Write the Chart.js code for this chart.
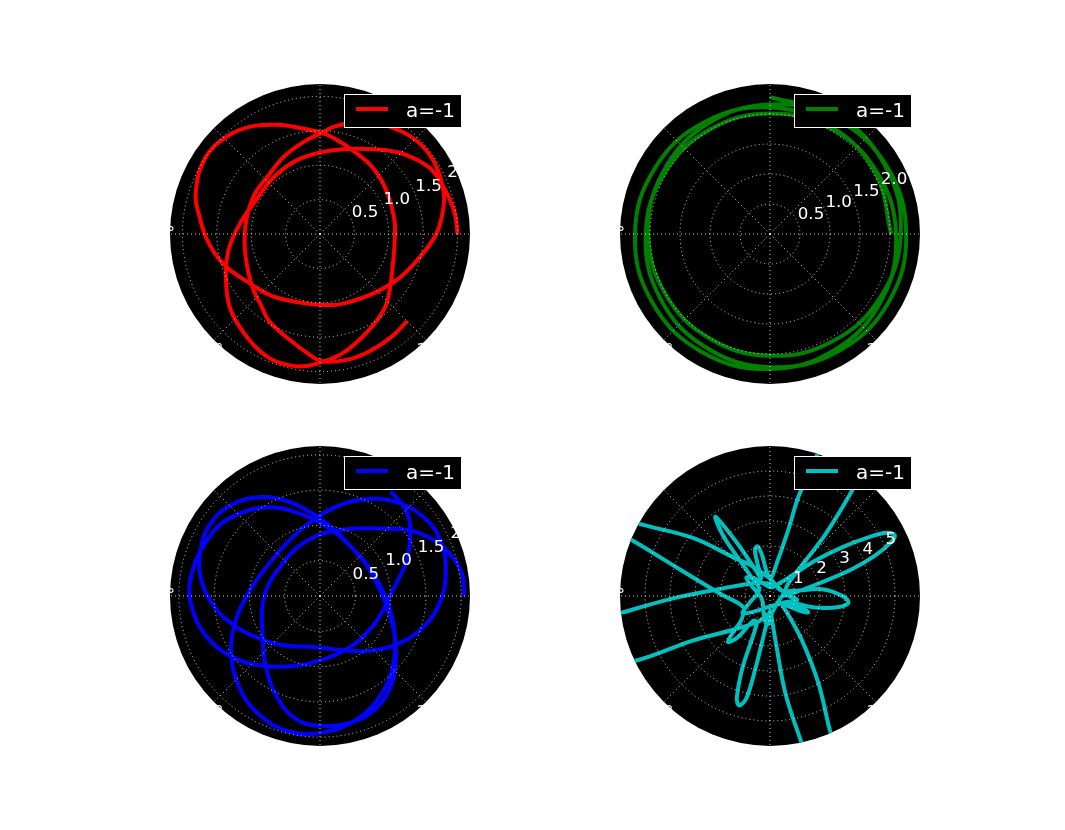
<!DOCTYPE html>
<html>
<head>
<meta charset="utf-8">
<script src="https://cdn.jsdelivr.net/npm/chart.js@4.4.1/dist/chart.umd.min.js"></script>
<style>
  html, body { margin: 0; padding: 0; background: #ffffff; }
  body { width: 1065px; height: 830px; position: relative; overflow: hidden; }
  canvas { position: absolute; }
</style>
</head>
<body>
<canvas id="c1" width="360" height="360" style="left:140px;top:54px"></canvas>
<canvas id="c2" width="360" height="360" style="left:590px;top:54px"></canvas>
<canvas id="c3" width="360" height="360" style="left:140px;top:416px"></canvas>
<canvas id="c4" width="360" height="360" style="left:590px;top:416px"></canvas>
<script>
// ---------------- data (theta in degrees, cumulative; r in data units) ----------------
const legendLabel = "a=-1";
const thetaTickLabels = ["0°", "45°", "90°", "135°", "180°", "225°", "270°", "315°"];
const thetaTickAngles = [0, 45, 90, 135, 180, 225, 270, 315];

const redRTicks = [0.5, 1.0, 1.5, 2.0];
const redRLabels = ["0.5", "1.0", "1.5", "2.0"];
const redRMax = 2.18;
const redTheta = [0,9,19,29,37,47,62,80,96,112,132,152,171,191,210,222,237,248,257,264,271,281,293,306,316,337,
  360,370,390,411,431,442,449,460,471,483,494,507,522,531,544,558,576,592,609,630,654,687,707,
  720,730,739,752,764,777,788,802,809,820,835,852,870,890,910,928,941,950,960,974,985,991,1002,1013,1025,1035];
const redR = [2.00,1.98,1.93,1.88,1.78,1.63,1.40,1.24,1.16,1.11,1.06,1.05,1.16,1.36,1.57,1.72,1.86,1.95,1.96,1.93,1.86,1.76,1.61,1.48,1.37,1.15,
  1.09,1.10,1.14,1.23,1.32,1.41,1.47,1.56,1.70,1.86,1.96,2.00,1.90,1.78,1.63,1.46,1.24,1.14,1.05,1.03,1.08,1.28,1.49,
  1.69,1.81,1.90,1.96,1.95,1.86,1.76,1.58,1.47,1.36,1.24,1.13,1.11,1.09,1.11,1.18,1.27,1.34,1.47,1.60,1.76,1.85,1.87,1.85,1.82,1.79];

const greenRTicks = [0.5, 1.0, 1.5, 2.0];
const greenRLabels = ["0.5", "1.0", "1.5", "2.0"];
const greenRMax = 2.5;
const greenTheta = [0,30,60,90,120,150,180,210,240,270,300,330,
  360,390,420,450,480,510,540,570,600,630,660,690,
  720,750,780,810,840,870,900,930,960,990,1020,1050,
  1080,1110,1140,1170];
const greenR = [2.02,2.03,2.06,2.11,2.16,2.21,2.25,2.27,2.27,2.25,2.21,2.16,
  2.10,2.06,2.03,2.01,2.01,2.03,2.07,2.12,2.17,2.22,2.26,2.28,
  2.27,2.25,2.21,2.16,2.11,2.06,2.03,2.01,2.01,2.03,2.07,2.12,
  2.18,2.23,2.27,2.28];

const blueRTicks = [0.5, 1.0, 1.5, 2.0];
const blueRLabels = ["0.5", "1.0", "1.5", "2.0"];
const blueRMax = 2.125;
const blueTheta = [0,8,16,25,36,50,68,90,115,140,165,188,214,233,249,261,272,282,
  294,306,318,332,347,365,395,425,440,455,468,480,492,505,
  518,532,546,560,575,592,625,655,670,685,700,715,730,745,
  758,772,787,802,818,835,860,885,902,918,933,948,962,977,
  992,1007,1022,1037,1052,1068,1085,1115,1150,1168,1185,1200,1215,1230,1252,
  1267,1282,1297,1312,1327,1345,1380,1410,1430,1443,1462,1474,1484,1496];
const blueR = [2.04,2.04,1.96,1.82,1.58,1.25,1.02,0.87,0.76,0.70,0.74,0.82,0.98,1.27,1.60,1.80,1.84,1.85,
  1.80,1.66,1.44,1.20,1.00,0.86,0.79,0.86,0.98,1.17,1.40,1.62,1.78,1.86,
  1.82,1.70,1.50,1.27,1.05,0.88,0.73,0.85,1.02,1.24,1.48,1.68,1.81,1.88,
  1.84,1.70,1.48,1.25,1.05,0.92,0.85,0.92,1.06,1.27,1.50,1.72,1.88,1.97,
  1.93,1.82,1.64,1.42,1.20,1.02,0.89,0.80,0.88,1.02,1.22,1.45,1.64,1.77,1.85,
  1.81,1.68,1.48,1.26,1.08,0.94,0.84,0.86,0.93,1.02,1.32,1.54,1.71,1.79];

const cyanRTicks = [1, 2, 3, 4, 5];
const cyanRLabels = ["1", "2", "3", "4", "5"];
const cyanRMax = 6.0;
const cyanTheta = [0,8,14,18,21,24,26,28.5,30.5,34,38,43,55,
  85,130,142,152,200,255,265,276,330,370,395,404,408,412,415,422,429,433.7,434.5,438,448,
  458,461,464,468,471,476,
  479,482,484.5,487.7,490,495,510,
  560,572,584,640,700,712,722,780,810,830,843,852,863,871,873,875,877,878,883,898,923,
  940,944,947.6,952,956,
  964,969,972,974.3,977,978.7,982,990,
  995,997,999,1002,1004,1008,1012,1014,1019,1025.7,1035,1045,
  1050,1054,1057,1060,1062,
  1064,1065.7,1071,1075.2,1080,1087.3,1092,1105,
  1150,1200,1217,1249.4,1261,1266.4,1268.5,1275,1282,1285.8,1290,1300.5,1326.5,1340];
const cyanR = [0.5,1.0,1.9,3.4,4.5,5.3,5.55,5.3,4.7,3.5,2.3,1.2,0.6,
  0.35,0.9,1.2,0.8,0.35,0.9,1.15,0.7,0.4,0.55,0.9,1.8,3.3,5.3,7.5,10,7.5,4.35,2.8,1.4,0.7,
  1.0,1.66,2.05,1.95,1.4,0.8,
  1.2,2.58,3.85,3.1,2.0,1.0,0.5,
  0.9,1.3,0.9,0.4,0.7,1.1,0.7,0.5,0.7,1.0,1.5,2.0,3.86,5.93,7.2,8.5,7.2,5.95,3.9,1.96,1.16,
  1.5,2.0,2.5,2.1,1.2,
  1.2,3.05,4.3,4.55,4.2,2.9,1.3,0.6,
  1.0,1.8,3.95,5.9,8,10,8,5.9,4.0,2.2,1.0,0.6,
  0.7,1.4,1.66,1.3,0.8,
  1.1,1.87,2.8,3.15,2.9,2.1,1.0,0.5,
  0.5,0.6,0.78,1.79,3.75,5.97,7.5,9,7.5,5.93,3.57,2.14,1.1,0.7];

// ---------------- helpers ----------------
function toXY(thetaDeg, r) {
  return thetaDeg.map((t, i) => {
    const a = t * Math.PI / 180;
    return { x: r[i] * Math.cos(a), y: r[i] * Math.sin(a) };
  });
}

const polarPlugin = {
  id: 'polarFrame',
  beforeDatasetsDraw(chart, args, opts) {
    const ctx = chart.ctx;
    const xs = chart.scales.x, ys = chart.scales.y;
    const cx = xs.getPixelForValue(0), cy = ys.getPixelForValue(0);
    const R = xs.getPixelForValue(opts.rmax) - cx;
    ctx.save();
    ctx.beginPath();
    ctx.arc(cx, cy, R, 0, Math.PI * 2);
    ctx.fillStyle = '#000000';
    ctx.fill();
    ctx.clip();
  },
  afterDatasetsDraw(chart, args, opts) {
    const ctx = chart.ctx;
    ctx.restore();
    const xs = chart.scales.x, ys = chart.scales.y;
    const cx = xs.getPixelForValue(0), cy = ys.getPixelForValue(0);
    const R = xs.getPixelForValue(opts.rmax) - cx;
    ctx.save();
    ctx.beginPath();
    ctx.arc(cx, cy, R, 0, Math.PI * 2);
    ctx.clip();
    ctx.strokeStyle = 'rgba(255,255,255,0.8)';
    ctx.lineWidth = 1;
    ctx.setLineDash([1, 3]);
    opts.ticks.forEach(t => {
      const rp = xs.getPixelForValue(t) - cx;
      ctx.beginPath();
      ctx.arc(cx, cy, rp, 0, Math.PI * 2);
      ctx.stroke();
    });
    opts.angles.forEach(a => {
      const ar = a * Math.PI / 180;
      ctx.beginPath();
      ctx.moveTo(cx, cy);
      ctx.lineTo(cx + R * Math.cos(ar), cy - R * Math.sin(ar));
      ctx.stroke();
    });
    ctx.restore();
    ctx.save();
    ctx.fillStyle = '#ffffff';
    ctx.font = '16.7px "DejaVu Sans"';
    ctx.textAlign = 'left';
    ctx.textBaseline = 'alphabetic';
    const la = 22.5 * Math.PI / 180;
    opts.ticks.forEach((t, i) => {
      const rp = xs.getPixelForValue(t) - cx;
      ctx.fillText(opts.tickLabels[i], cx + rp * Math.cos(la), cy - rp * Math.sin(la) - 3.9);
    });
    ctx.textAlign = 'center';
    ctx.textBaseline = 'middle';
    opts.angles.forEach((a, i) => {
      const ar = a * Math.PI / 180;
      ctx.fillText(opts.angleLabels[i], cx + 1.1 * R * Math.cos(ar), cy - 1.1 * R * Math.sin(ar));
    });
    ctx.restore();
  },
  afterDraw(chart, args, opts) {
    const ctx = chart.ctx;
    const xs = chart.scales.x, ys = chart.scales.y;
    const cx = xs.getPixelForValue(0), cy = ys.getPixelForValue(0);
    const ds = chart.data.datasets[0];
    ctx.save();
    ctx.fillStyle = '#000000';
    ctx.fillRect(cx + 24, cy - 140, 118, 34);
    ctx.strokeStyle = '#ffffff';
    ctx.lineWidth = 1;
    ctx.strokeRect(cx + 24.5, cy - 139.5, 117, 33);
    ctx.strokeStyle = ds.borderColor;
    ctx.lineWidth = 4;
    ctx.beginPath();
    ctx.moveTo(cx + 36, cy - 125);
    ctx.lineTo(cx + 68, cy - 125);
    ctx.stroke();
    ctx.fillStyle = '#ffffff';
    ctx.font = '20px "DejaVu Sans"';
    ctx.textAlign = 'left';
    ctx.textBaseline = 'alphabetic';
    ctx.fillText(ds.label, cx + 86, cy - 117.5);
    ctx.restore();
  }
};

function makePolar(id, theta, r, color, rmax, ticks, tickLabels, tension) {
  new Chart(document.getElementById(id), {
    type: 'scatter',
    data: {
      datasets: [{
        label: legendLabel,
        data: toXY(theta, r),
        showLine: true,
        borderColor: color,
        backgroundColor: color,
        borderWidth: 4,
        pointRadius: 0,
        tension: tension,
        fill: false
      }]
    },
    options: {
      responsive: false,
      animation: false,
      layout: { padding: 30 },
      scales: {
        x: { type: 'linear', min: -rmax, max: rmax, display: false },
        y: { type: 'linear', min: -rmax, max: rmax, display: false }
      },
      plugins: {
        legend: { display: false },
        tooltip: { enabled: false },
        polarFrame: { rmax: rmax, ticks: ticks, tickLabels: tickLabels, angles: thetaTickAngles, angleLabels: thetaTickLabels }
      }
    },
    plugins: [polarPlugin]
  });
}

makePolar('c1', redTheta, redR, '#ff0000', redRMax, redRTicks, redRLabels, 0.4);
makePolar('c2', greenTheta, greenR, '#008000', greenRMax, greenRTicks, greenRLabels, 0.4);
makePolar('c3', blueTheta, blueR, '#0000ff', blueRMax, blueRTicks, blueRLabels, 0.4);
makePolar('c4', cyanTheta, cyanR, '#00bfbf', cyanRMax, cyanRTicks, cyanRLabels, 0.35);
</script>
</body>
</html>
